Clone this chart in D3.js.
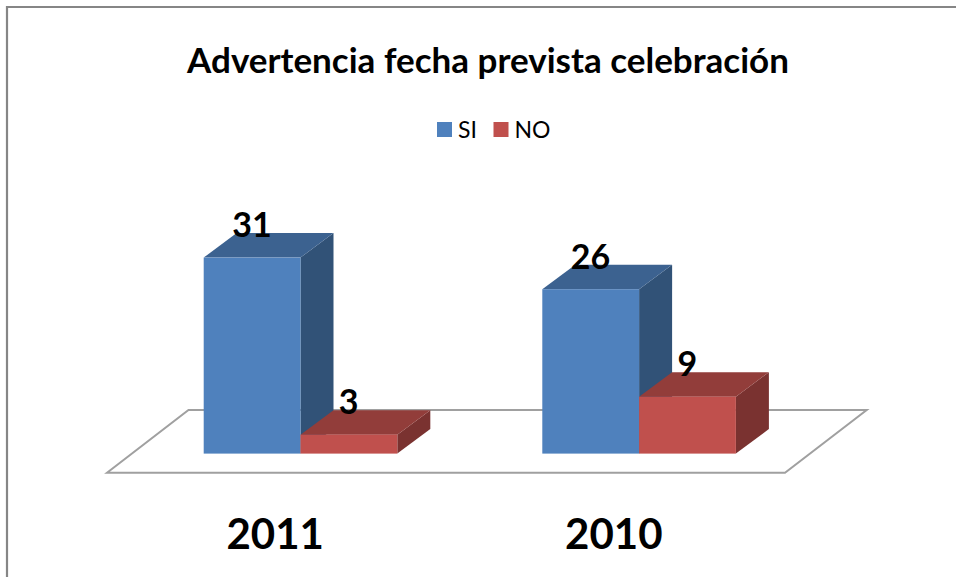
<!DOCTYPE html>
<html><head><meta charset="utf-8">
<script src="https://cdn.jsdelivr.net/npm/d3@7"></script>
<style>html,body{margin:0;padding:0;background:#fff}svg{display:block}text{font-family:Lato,"Open Sans",sans-serif}</style>
</head><body><div id="chart"></div>
<script>
const chartTitle = "Advertencia fecha prevista celebración";
const categories = ["2011", "2010"];
const seriesNames = ["SI", "NO"];
const siValues = [31, 26];
const noValues = [3, 9];
const frontColors = ["#4f81bd", "#c0504d"];
const topColors = ["#3c6290", "#923d3a"];
const sideColors = ["#315277", "#7a3230"];

const W = 956, H = 577;
const svg = d3.select("#chart").append("svg").attr("width", W).attr("height", H);
const DX = 33, DY = -24.5;

const x = d3.scaleBand().domain(categories).range([131.2, 131.2 + 2 * 338.6]).paddingInner(0).paddingOuter(0);
const barW = 96.8;
const y = d3.scaleLinear().domain([0, 31]).range([453.6, 257.6]);

// outer frame
svg.append("path").attr("d", `M${W},7H7V${H}`).attr("fill", "none").attr("stroke", "#868686").attr("stroke-width", 2.2);

// floor
const floorFront = 472.7, floorBack = 410;
svg.append("path")
  .attr("d", `M107,${floorFront}L188.5,${floorBack}H866.7L785,${floorFront}Z`)
  .attr("fill", "#fff").attr("stroke", "#a0a0a0").attr("stroke-width", 2);

const rows = categories.flatMap((c, i) => [
  {c, s: 0, v: siValues[i]},
  {c, s: 1, v: noValues[i]}
]);
const c0 = d => d.c;
const bx = d => x(c0(d)) + (x.bandwidth() - 2 * barW) / 2 + d.s * barW;

const g = svg.append("g").selectAll("g").data(rows).join("g");
g.append("path").attr("fill", d => sideColors[d.s])
  .attr("d", d => { const l = bx(d) + barW, t = y(d.v), b = y(0);
    return `M${l},${t}l${DX},${DY}V${b + DY}l${-DX},${-DY}Z`; });
g.append("path").attr("fill", d => topColors[d.s])
  .attr("d", d => { const l = bx(d), t = y(d.v);
    return `M${l},${t}l${DX},${DY}h${barW}l${-DX},${-DY}Z`; });
g.append("rect").attr("fill", d => frontColors[d.s])
  .attr("x", bx).attr("y", d => y(d.v)).attr("width", barW).attr("height", d => y(0) - y(d.v));

// value labels
svg.append("g").selectAll("text").data(rows).join("text")
  .attr("x", d => bx(d) + 48.2)
  .attr("y", d => y(d.v) - 20.5)
  .attr("text-anchor", "middle")
  .attr("font-size", 34).attr("font-weight", 700).attr("fill", "#000")
  .text(d => d.v);

// title
svg.append("text").attr("x", 488).attr("y", 73).attr("text-anchor", "middle")
  .attr("font-size", 35).attr("font-weight", 700).attr("fill", "#000").text(chartTitle);

// legend
const legendX = [437, 493.5];
const lg = svg.append("g").selectAll("g").data(seriesNames).join("g");
lg.append("rect").attr("x", (d, i) => legendX[i]).attr("y", 122).attr("width", 15).attr("height", 15)
  .attr("fill", (d, i) => frontColors[i]);
lg.append("text").attr("x", (d, i) => legendX[i] + 21).attr("y", 138)
  .attr("font-size", 23).attr("fill", "#000").text(d => d);

// category labels
svg.append("g").selectAll("text").data(categories).join("text")
  .attr("x", d => x(d) + x.bandwidth() / 2 - 25.3)
  .attr("y", 549).attr("text-anchor", "middle")
  .attr("font-size", 42).attr("font-weight", 700).attr("fill", "#000").text(d => d);
</script></body></html>
